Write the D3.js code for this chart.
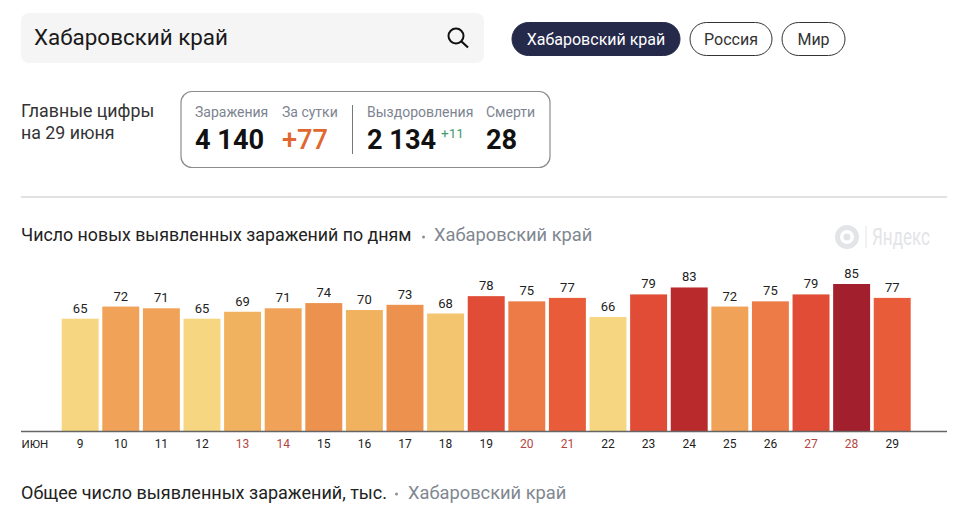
<!DOCTYPE html>
<html lang="ru">
<head>
<meta charset="utf-8">
<title>Хабаровский край</title>
<style>
    html, body { margin: 0; background: #fff; }
    svg { display: block; font-family: Roboto, "Noto Sans", sans-serif; }
</style>
<script src="https://cdn.jsdelivr.net/npm/d3@7"></script>
</head>
<body>
<svg></svg>
<script>
// values
let days = ['9', '10', '11', '12', '13', '14', '15', '16', '17', '18', '19', '20', '21', '22', '23', '24', '25', '26', '27', '28', '29'];
let cases = [65, 72, 71, 65, 69, 71, 74, 70, 73, 68, 78, 75, 77, 66, 79, 83, 72, 75, 79, 85, 77];
let weekends = ['13', '14', '20', '21', '27', '28'];

let colorSteps = [67, 69, 71, 73, 75, 76, 78, 80, 84];
let colorList = ['#f6d681', '#f3c56f', '#f1b25f', '#f0a358', '#ed914e', '#ec7b47', '#e85c3a', '#e04c35', '#b82a2b', '#a21f2d'];

let tabs = ['Хабаровский край', 'Россия', 'Мир'];
let statLabels = ['Заражения', 'За сутки', 'Выздоровления', 'Смерти'];
let statValues = ['4 140', '+77', '2 134', '28'];

let width = 960;
let height = 528;
let baseline = 431.5;

let svg = d3.select('svg').attr('width', width).attr('height', height);

let addText = (str, x, y, size, fill, weight) => {
    return svg.append('text')
        .attr('x', x)
        .attr('y', y)
        .attr('font-size', size)
        .attr('font-weight', weight || 400)
        .attr('fill', fill)
        .text(str);
};

const drawHeader = () => {
    svg.append('rect').attr('x', 21).attr('y', 13).attr('width', 463).attr('height', 50).attr('rx', 8).attr('fill', '#f5f5f5');
    addText(tabs[0], 34, 45, 22.4, '#1a1a1a');

    // search icon
    svg.append('circle').attr('cx', 456).attr('cy', 36).attr('r', 7.5).attr('fill', 'none').attr('stroke', '#111').attr('stroke-width', 2);
    svg.append('line').attr('x1', 461.5).attr('y1', 41.5).attr('x2', 468).attr('y2', 47.5).attr('stroke', '#111').attr('stroke-width', 2.2);

    let tabBoxes = [[512, 168], [690, 82], [782, 63]];
    tabs.forEach((tab, i) => {
        svg.append('rect')
            .attr('x', tabBoxes[i][0])
            .attr('y', 22.5)
            .attr('width', tabBoxes[i][1])
            .attr('height', 33)
            .attr('rx', 16.5)
            .attr('fill', i === 0 ? '#25294a' : '#fff')
            .attr('stroke', i === 0 ? '#25294a' : '#333');
        addText(tab, tabBoxes[i][0] + tabBoxes[i][1] / 2, 44.5, 16, i === 0 ? '#fff' : '#333')
            .attr('text-anchor', 'middle');
    });
};

const drawStats = () => {
    addText('Главные цифры', 21, 117, 17.8, '#333');
    addText('на 29 июня', 21, 139, 17.8, '#333');

    svg.append('rect').attr('x', 181).attr('y', 91.5).attr('width', 369).attr('height', 76).attr('rx', 11).attr('fill', '#fff').attr('stroke', '#8c8c8c').attr('stroke-width', 1.2);
    svg.append('line').attr('x1', 352.5).attr('x2', 352.5).attr('y1', 105).attr('y2', 154).attr('stroke', '#777');

    let statX = [195, 282, 367, 486];
    statLabels.forEach((label, i) => {
        addText(label, statX[i], 117, 14, '#7d8490');
        addText(statValues[i], statX[i], 149, 27.2, i === 1 ? '#e0672f' : '#111', i === 1 ? 500 : 700);
    });
    addText('+11', 441, 138, 13.5, '#3f9c6c');

    svg.append('line').attr('x1', 21).attr('x2', 947).attr('y1', 197).attr('y2', 197).attr('stroke', '#c4c4c4');
};

const drawTitles = () => {
    addText('Число новых выявленных заражений по дням', 21, 241, 17.8, '#222');
    svg.append('circle').attr('cx', 423.5).attr('cy', 237).attr('r', 1.5).attr('fill', '#8a8f98');
    addText('Хабаровский край', 434, 241, 18.3, '#7f8791');

    addText('Общее число выявленных заражений, тыс.', 21, 499, 18, '#222');
    svg.append('circle').attr('cx', 396.5).attr('cy', 494).attr('r', 1.5).attr('fill', '#8a8f98');
    addText('Хабаровский край', 408, 499, 18.3, '#7f8791');

    // watermark
    svg.append('circle').attr('cx', 847).attr('cy', 237).attr('r', 9.5).attr('fill', 'none').attr('stroke', '#e3e4e8').attr('stroke-width', 5);
    svg.append('circle').attr('cx', 847).attr('cy', 237).attr('r', 3.5).attr('fill', '#e3e4e8');
    svg.append('line').attr('x1', 866).attr('x2', 866).attr('y1', 226).attr('y2', 248).attr('stroke', '#e3e4e8');
    addText('Яндекс', 872, 245, 24, '#e3e4e8')
        .attr('textLength', 58)
        .attr('lengthAdjust', 'spacingAndGlyphs');
};

const drawBars = () => {
    let xScale = d3.scaleBand()
        .domain(days)
        .range([61.7, 910.7])
        .paddingInner(0.09);

    let yScale = d3.scaleLinear()
        .domain([0, 85])
        .range([baseline, 284]);

    let colorScale = d3.scaleThreshold()
        .domain(colorSteps)
        .range(colorList);

    svg.selectAll('rect.bar')
        .data(cases)
        .enter()
        .append('rect')
        .attr('class', 'bar')
        .attr('x', (item, index) => xScale(days[index]))
        .attr('y', (item) => yScale(item))
        .attr('width', xScale.bandwidth())
        .attr('height', (item) => baseline - yScale(item))
        .attr('fill', (item) => colorScale(item));

    svg.selectAll('text.bar-label')
        .data(cases)
        .enter()
        .append('text')
        .attr('class', 'bar-label')
        .attr('x', (item, index) => xScale(days[index]) + xScale.bandwidth() / 2)
        .attr('y', (item) => yScale(item) - 6)
        .attr('text-anchor', 'middle')
        .attr('font-size', 13)
        .attr('fill', '#222')
        .text((item) => item);

    let xAxis = d3.axisBottom(xScale).tickSize(0).tickPadding(8);
    let axisGroup = svg.append('g')
        .attr('id', 'x-axis')
        .attr('transform', `translate(0, ${baseline})`)
        .call(xAxis);
    axisGroup.select('.domain').remove();
    axisGroup.selectAll('text')
        .attr('font-family', 'Roboto, "Noto Sans", sans-serif')
        .attr('font-size', 12)
        .attr('fill', (item) => weekends.includes(item) ? '#b5453f' : '#222');

    svg.append('line')
        .attr('x1', 21)
        .attr('x2', 947)
        .attr('y1', baseline)
        .attr('y2', baseline)
        .attr('stroke', '#666')
        .attr('stroke-width', 1.5);

    addText('ИЮН', 21.5, 448, 11.5, '#222');
};

drawHeader();
drawStats();
drawTitles();
drawBars();
</script>
</body>
</html>
